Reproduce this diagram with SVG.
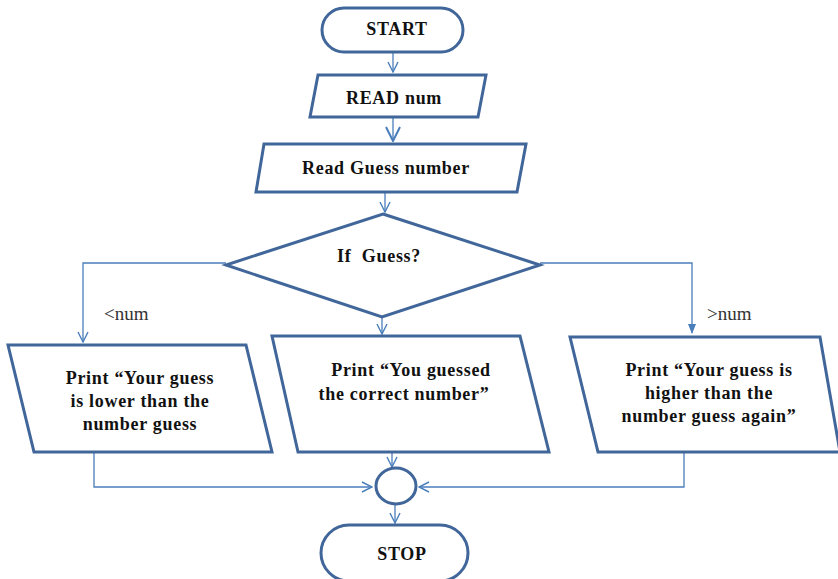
<svg xmlns="http://www.w3.org/2000/svg" width="838" height="579" viewBox="0 0 838 579">
  <defs>
    <marker id="open" viewBox="0 0 12 12" refX="11" refY="6" markerWidth="12" markerHeight="12" markerUnits="userSpaceOnUse" orient="auto">
      <path d="M1,1 L11,6 L1,11" fill="none" stroke="#4a7ebb" stroke-width="1.4"/>
    </marker>
    <marker id="openLg" viewBox="0 0 16 16" refX="15" refY="8" markerWidth="16" markerHeight="16" markerUnits="userSpaceOnUse" orient="auto">
      <path d="M1,1 L15,8 L1,15" fill="none" stroke="#4a7ebb" stroke-width="2"/>
    </marker>
    <marker id="solid" viewBox="0 0 10 10" refX="9" refY="5" markerWidth="10" markerHeight="10" markerUnits="userSpaceOnUse" orient="auto">
      <path d="M0,1 L10,5 L0,9 Z" fill="#4a7ebb"/>
    </marker>
  </defs>
  <style>
    .node { fill: #ffffff; stroke: #41669a; stroke-width: 3; }
    .conn { fill: none; stroke: #4a7ebb; stroke-width: 1.3; }
    .t { font-family: "Liberation Serif", "Times New Roman", serif; font-weight: bold; font-size: 18px; fill: #111111; text-anchor: middle; letter-spacing: 0.7px; }
    .lbl { font-family: "Liberation Serif", "Times New Roman", serif; font-size: 19px; fill: #333333; }
  </style>
  <rect width="838" height="579" fill="#ffffff"/>

  <!-- connectors -->
  <g id="connectors">
    <line class="conn" x1="393" y1="53" x2="393" y2="72" marker-end="url(#open)"/>
    <line class="conn" x1="393" y1="118" x2="393" y2="141" stroke-width="2" marker-end="url(#openLg)"/>
    <line class="conn" x1="385" y1="193" x2="385" y2="212" marker-end="url(#open)"/>
    <polyline class="conn" points="226,263 83,263 83,342" marker-end="url(#open)"/>
    <polyline class="conn" points="540,263 692,263 692,333" marker-end="url(#solid)"/>
    <line class="conn" x1="382" y1="318" x2="382" y2="334" marker-end="url(#open)"/>
    <polyline class="conn" points="94,453 94,487 372,487" marker-end="url(#open)"/>
    <polyline class="conn" points="684,453 684,487 419,487" marker-end="url(#open)"/>
    <line class="conn" x1="392" y1="453" x2="392" y2="467" marker-end="url(#open)"/>
    <line class="conn" x1="395" y1="505" x2="395" y2="523" marker-end="url(#open)"/>
    <text class="lbl" x="104" y="320">&lt;num</text>
    <text class="lbl" x="707" y="320">&gt;num</text>
  </g>

  <g id="start">
    <rect class="node" x="322" y="8" width="141" height="44" rx="22"/>
    <text class="t" x="397" y="35">START</text>
  </g>

  <g id="read-num">
    <polygon class="node" points="318,75 486,75 478,117 310,117"/>
    <text class="t" x="394" y="104">READ num</text>
  </g>

  <g id="read-guess">
    <polygon class="node" points="264,144 526,144 517,192 256,192"/>
    <text class="t" x="386" y="174">Read Guess number</text>
  </g>

  <g id="decision">
    <polygon class="node" points="383,214 540,265 382,317 226,265"/>
    <text class="t" x="379" y="262" xml:space="preserve">If  Guess?</text>
  </g>

  <g id="print-lower">
    <polygon class="node" points="8,345 246,345 272,452 34,452"/>
    <text class="t" x="140" y="384">Print “Your guess</text>
    <text class="t" x="140" y="407">is lower than the</text>
    <text class="t" x="140" y="430">number guess</text>
  </g>

  <g id="print-correct">
    <polygon class="node" points="272,336 520,336 549,452 298,452"/>
    <text class="t" x="411" y="376">Print “You guessed</text>
    <text class="t" x="404" y="400">the correct number”</text>
  </g>

  <g id="print-higher">
    <polygon class="node" points="570,337 820,337 840,452 598,452"/>
    <text class="t" x="709" y="376">Print “Your guess is</text>
    <text class="t" x="709" y="399">higher than the</text>
    <text class="t" x="709" y="422">number guess again”</text>
  </g>

  <g id="join">
    <ellipse class="node" cx="396" cy="486" rx="20" ry="18"/>
  </g>

  <g id="stop">
    <rect class="node" x="321" y="525" width="147" height="56" rx="28"/>
    <text class="t" x="402" y="560">STOP</text>
  </g>
</svg>
